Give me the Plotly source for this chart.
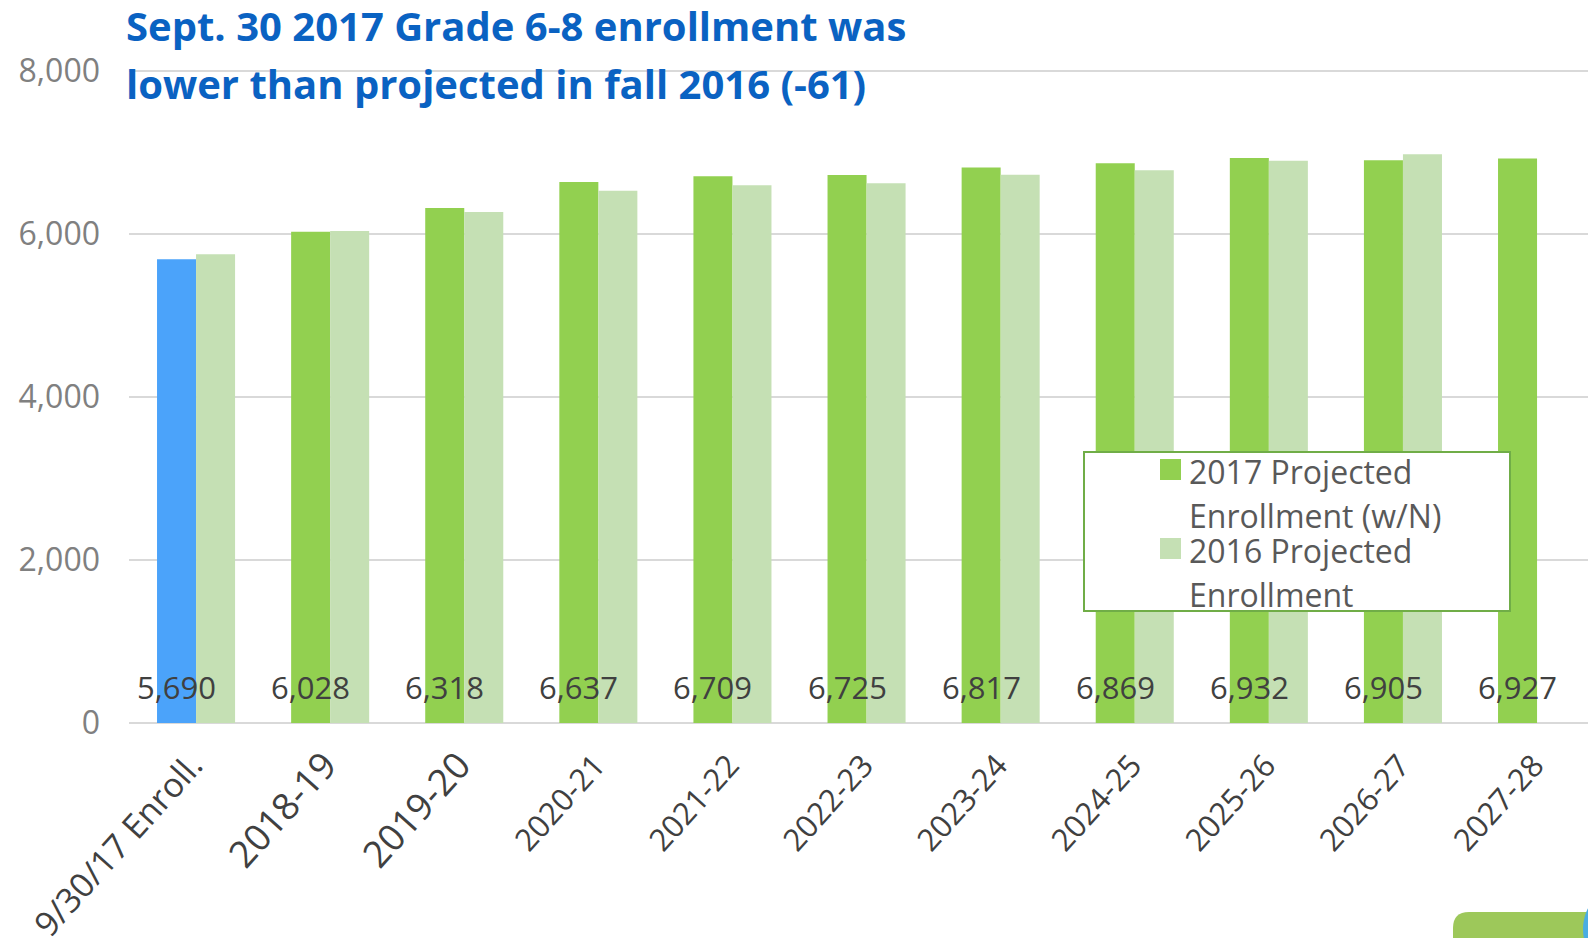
import plotly.graph_objects as go

# ---------------- data ----------------
categories = ["9/30/17 Enroll.", "2018-19", "2019-20", "2020-21", "2021-22", "2022-23",
              "2023-24", "2024-25", "2025-26", "2026-27", "2027-28"]
proj_2017 = [5690, 6028, 6318, 6637, 6709, 6725, 6817, 6869, 6932, 6905, 6927]
proj_2016 = [5751, 6037, 6270, 6531, 6598, 6622, 6728, 6782, 6900, 6978, None]
series_names = ["2017 Projected Enrollment (w/N)", "2016 Projected Enrollment"]
legend_lines = [["2017 Projected", "Enrollment (w/N)"], ["2016 Projected", "Enrollment"]]
y_ticks = [0, 2000, 4000, 6000, 8000]
title_lines = ["Sept. 30 2017 Grade 6-8 enrollment was", "lower than projected in fall 2016 (-61)"]

# ---------------- style ----------------
OFF = 8                      # page body margin of the html
W, H = 1596 - OFF, 938 - OFF
L, R, T, B = 121, 0, 61, 215
PW, PH = W - L - R, H - T - B
FONT = "Open Sans, Noto Sans, sans-serif"
BLUE = "#4BA3FA"
GREEN = "#92D050"
LIGHT_GREEN = "#C5E0B4"
GRID = "#D9D9D9"
tick_sizes = [34, 37, 37, 31, 31, 31, 31, 31, 31, 31, 31]
Y_TOP = 8000 * (723 - 69) / (723 - 71)


def xp(px):
    return (px - OFF - L) / PW


def yp(py):
    return (H - B - (py - OFF)) / PH


colors_2017 = [BLUE] + [GREEN] * (len(categories) - 1)

fig = go.Figure()
fig.add_trace(go.Bar(x=categories, y=proj_2017, name=series_names[0],
                     marker=dict(color=colors_2017, line=dict(width=0)), showlegend=False))
fig.add_trace(go.Bar(x=categories, y=proj_2016, name=series_names[1],
                     marker=dict(color=LIGHT_GREEN, line=dict(width=0)), showlegend=False))

# data labels centred on the 2017 bars, near the base
for c, v in zip(categories, proj_2017):
    fig.add_annotation(x=c, y=0, xref="x", yref="y", text=f"{v:,}", showarrow=False,
                       xshift=-19.5, yshift=36, yanchor="middle",
                       font=dict(family=FONT, size=31, color="#404040"))

# title, two lines
for line, ymid in zip(title_lines, [25, 83]):
    fig.add_annotation(x=xp(124), y=yp(ymid), xref="paper", yref="paper", text=f"<b>{line}</b>",
                       showarrow=False, xanchor="left", yanchor="middle",
                       font=dict(family=FONT, size=40, color="#0A62C2"))

# legend drawn by hand (box, swatches, text)
fig.add_shape(type="rect", xref="paper", yref="paper",
              x0=xp(1084), x1=xp(1510), y0=yp(611), y1=yp(452),
              line=dict(color="#70AD47", width=2), fillcolor="white", layer="above")
for (top, col) in [(459, GREEN), (538, LIGHT_GREEN)]:
    fig.add_shape(type="rect", xref="paper", yref="paper",
                  x0=xp(1160), x1=xp(1181), y0=yp(top + 21), y1=yp(top),
                  line=dict(width=0), fillcolor=col, layer="above")
for lines, mids in zip(legend_lines, [[471, 515.5], [550, 594]]):
    for txt, ym in zip(lines, mids):
        fig.add_annotation(x=xp(1187), y=yp(ym), xref="paper", yref="paper", text=txt,
                           showarrow=False, xanchor="left", yanchor="middle", align="left",
                           font=dict(family=FONT, size=32, color="#595959"))

# slide decoration in the bottom-right corner
r = 46
fig.add_shape(type="path", xref="paper", yref="paper",
              path=(f"M {xp(1453)},{yp(960)} L {xp(1453)},{yp(928)} "
                    f"Q {xp(1453)},{yp(912)} {xp(1469)},{yp(912)} "
                    f"L {xp(1640)},{yp(912)} L {xp(1640)},{yp(960)} Z"),
              fillcolor="#9DC85A", line=dict(width=0), layer="above")
fig.add_shape(type="circle", xref="paper", yref="paper",
              x0=xp(1583), x1=xp(1583 + 2 * r), y0=yp(883 + 2 * r), y1=yp(883),
              fillcolor="#4AADE2", line=dict(width=0), layer="above")

ticktext = [f"<span style='font-size:{s}px'>{c}</span>" for c, s in zip(categories, tick_sizes)]

fig.update_layout(
    width=W, height=H, autosize=False,
    template="none",
    paper_bgcolor="white", plot_bgcolor="white",
    margin=dict(l=L, r=R, t=T, b=B, pad=0),
    barmode="group", bargap=0.418, bargroupgap=0,
    showlegend=False,
    xaxis=dict(type="category", categoryorder="array", categoryarray=categories,
               tickmode="array", tickvals=categories, ticktext=ticktext,
               range=[-0.5, -0.5 + PW / 134.1], tickangle=-48, showgrid=False,
               zeroline=False, showline=False, ticks="", automargin=False,
               ticklabelstandoff=17, ticklabelshift=-3,
               tickfont=dict(family=FONT, size=31, color="#404040")),
    yaxis=dict(range=[0, Y_TOP], tickvals=y_ticks, tickformat=",", showgrid=True,
               gridcolor=GRID, gridwidth=2, zeroline=True, zerolinecolor=GRID,
               zerolinewidth=2, showline=False, ticks="", automargin=False,
               ticklabelstandoff=28,
               tickfont=dict(family=FONT, size=32, color="#808080")),
)

fig.write_html("out.html")
